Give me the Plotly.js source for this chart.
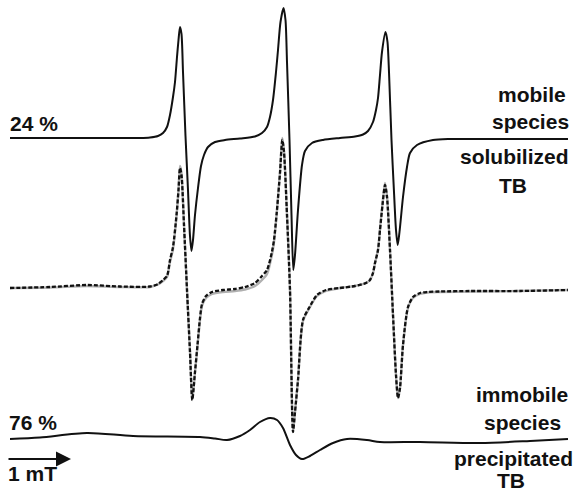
<!DOCTYPE html>
<html>
<head>
<meta charset="utf-8">
<script src="https://cdn.plot.ly/plotly-3.0.1.min.js"></script>
<style>html,body{margin:0;padding:0;background:#fff;}#chart{width:573px;height:500px;}</style>
</head>
<body>
<div id="chart"></div>
<script>
// Field position (px-scaled field axis) and signal position (px-scaled, downward)
var mobileX = [10,100,140,150,158,163,167,170,173,175,177,178.5,180,181.5,183,185.5,188,190,191.5,193,195,198,201,204,208,215,225,240,255,262,267,270,273,276,278,280.5,283.5,285.5,287,289.5,291.5,293.3,295,298,302,305,312,323,340,355,363,368,373,376,378,380,382,385.5,387.5,389,391.5,394,396,397.7,399.5,403,407,410,417,433,450,500,568];
var mobileY = [138,138,138,137.5,136,133,127,115,97,82,57,40,27,34,72,136,190,236,251,240,215,188,166,155,147,142,140,138.5,136.5,133,127,117,100,72,50,22,8,20,62,140,215,270,255,210,165,151,143,140,138,136.5,134.5,131,122,110,98,75,52,32,42,72,140,192,230,245,232,197,167,153,145,140,139,139,139];

var solubX = [10,50,87,120,150,158,163,167,170,173,176.7,178.5,180,181.5,184,187,190,192.3,195,197.5,200,202,206,212,223,235,245,255,262,267,271.7,274,276.7,280,282.3,284,287,290,293,295,298,303,309.7,317,326,340,355,366,370,373,375,378,380,382.5,385,387,390,393,396,398,400,403,408,413,420,427,440,470,520,568];
var solubY = [288,287,285,286.5,286.5,284,280,276,260,247,213,190,168,175,225,290,352,400,372,345,318,304,296,292,290,289,287,283,276,270,253,240,213,173,140,152,215,290,432,412,380,320,306.7,295,290,288,286,283,280,273,263,250,230,205,185,197,250,315,375,398,388,345,307,297,293,292,291.5,291,291,290];

var ppX = [10,50,87,120,150,158,163,167,170,173,176.7,178.5,180,181.5,184,187,190,192.3,195,197.5,200,202,206,212,223,235,245,255,262,267,271.7,274,276.7,280,282.3,284,287,290,293,295,298,303,309.7,317,326,340,355,366,370,373,375,378,380,382.5,385,387,390,393,396,398,400,403,408,413,420,427,440,470,520,568];
var ppY = [288,287.5,286,287,287,284.5,281,277,262,249,214,190,166,174,225,290,352,400,372,346,320,306,298,294,292,291,289.5,286,280,274,256,242,214,172,138,151,215,290,432,412,380,321,307.5,296,291,288,286,283,280,273,263,250,229,204,183,196,250,315,375,398,388,345,308,298,294,292.5,292,291.5,291,290];

var immobX = [10,40,87,133,200,215,227,240,250,260,270,277,283,290,296,302,310,320,333,347,367,380,420,480,530,568];
var immobY = [439,437.5,433,436,437,438.5,440,436,430,422,418,420,428,445,455,459,456,450,443,439,440,442,442,443,441,439];

var labels = {
  left: ['24 %', '76 %', '1 mT'],
  right: ['mobile', 'species', 'solubilized', 'TB', 'immobile', 'species', 'precipitated', 'TB']
};

var font = {family: 'Liberation Sans, Arial, sans-serif', size: 21, color: '#111', weight: 'bold'};

var traces = [
  {x: mobileX, y: mobileY, mode: 'lines', line: {color: '#111', width: 2, shape: 'spline', smoothing: 0.7}, hoverinfo: 'skip'},
  {x: ppX, y: ppY, mode: 'lines', line: {color: '#b0b0b0', width: 2.4, shape: 'spline', smoothing: 0.7}, hoverinfo: 'skip'},
  {x: solubX, y: solubY, mode: 'lines', line: {color: '#111', width: 2.3, dash: '4px,2px', shape: 'spline', smoothing: 0.7}, hoverinfo: 'skip'},
  {x: immobX, y: immobY, mode: 'lines', line: {color: '#111', width: 2, shape: 'spline', smoothing: 0.8}, hoverinfo: 'skip'}
];

function ann(text, x, y, xanchor) {
  return {text: text, x: x, y: y, xref: 'x', yref: 'y', xanchor: xanchor, yanchor: 'middle',
          showarrow: false, font: font, borderpad: 0};
}

var annotations = [
  ann(labels.left[0], 9, 123, 'left'),
  ann(labels.left[1], 8, 422, 'left'),
  ann(labels.left[2], 7, 473, 'left'),
  ann(labels.right[0], 532, 94, 'center'),
  ann(labels.right[1], 530, 121, 'center'),
  ann(labels.right[2], 514, 156, 'center'),
  ann(labels.right[3], 513, 185, 'center'),
  ann(labels.right[4], 522, 394, 'center'),
  ann(labels.right[5], 522, 422, 'center'),
  ann(labels.right[6], 513, 458, 'center'),
  ann(labels.right[7], 511, 480, 'center'),
  {text: '', x: 71, y: 459, ax: 7, ay: 459, xref: 'x', yref: 'y', axref: 'x', ayref: 'y',
   showarrow: true, arrowhead: 2, arrowsize: 1.5, arrowwidth: 2, arrowcolor: '#111'}
];

var layout = {
  width: 573, height: 500,
  margin: {l: 0, r: 0, t: 0, b: 0},
  paper_bgcolor: '#fff', plot_bgcolor: '#fff',
  showlegend: false,
  xaxis: {range: [0, 573], visible: false, fixedrange: true},
  yaxis: {range: [500, 0], visible: false, fixedrange: true},
  annotations: annotations
};

Plotly.newPlot('chart', traces, layout, {displayModeBar: false, staticPlot: true});
</script>
</body>
</html>
